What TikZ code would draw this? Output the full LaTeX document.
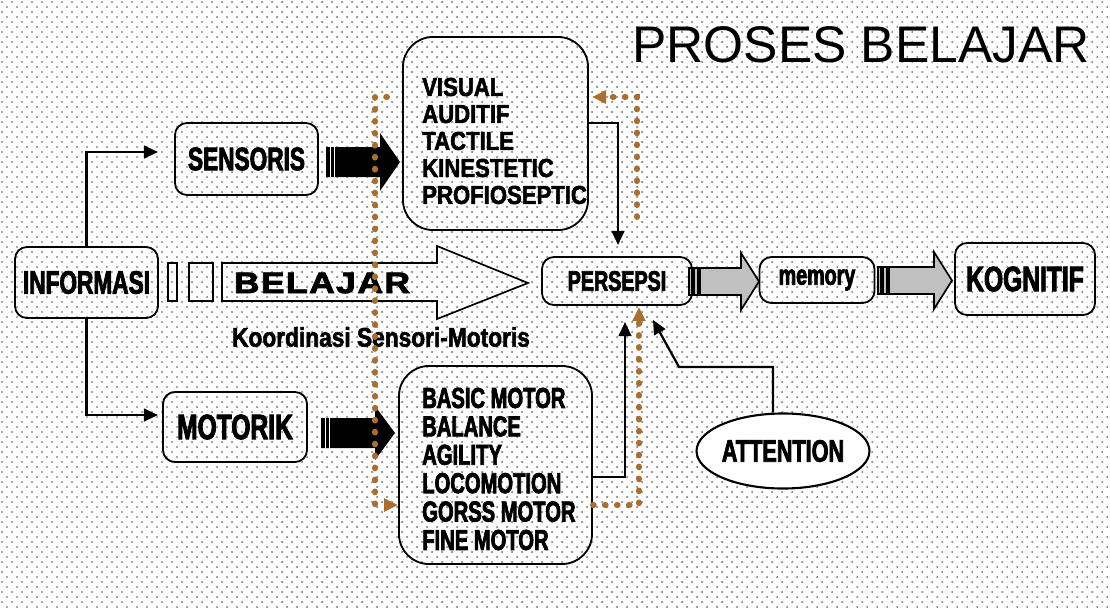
\documentclass[tikz,border=0pt]{standalone}
\usepackage{fontspec}
\setmainfont{Liberation Sans}
\newfontfamily\narrowfont[FakeStretch=0.7,BoldFeatures={FakeBold=2.5}]{Liberation Sans}
\newfontfamily\semifont[FakeStretch=0.85,BoldFeatures={FakeBold=2}]{Liberation Sans}
\newfontfamily\widefont[FakeStretch=1.2,LetterSpace=5,BoldFeatures={FakeBold=3}]{Liberation Sans}
\usetikzlibrary{positioning, shapes.geometric, arrows.meta, calc}
\definecolor{mybrown}{RGB}{168,110,50}
\definecolor{mygray}{RGB}{192,192,192}
\definecolor{dotgray}{RGB}{140,140,140}
\tikzset{
  box/.style={draw, line width=1.3pt, rounded corners=0.3cm, inner sep=0pt,
    font=\narrowfont\bfseries\fontsize{23}{26}\selectfont},
  bigbox/.style={draw, line width=1.3pt, rounded corners=0.75cm, inner sep=0pt},
  listtxt/.style={anchor=west, align=left, inner sep=0pt},
  conn/.style={->, line width=1.6pt},
  brownline/.style={->, draw=mybrown, line width=4.2pt, line cap=round,
    dash pattern=on 0.6pt off 7.9pt},
  dotrow/.style={dotgray, line width=1.7pt, line cap=round,
    dash pattern=on 0pt off 7.113pt},
  blockline/.style={line width=1.2pt}
}

\begin{document}
\begin{tikzpicture}[x=0.025cm, y=-0.025cm,
  >={Triangle[length=10pt,width=9pt]}]

% background
\useasboundingbox (0,0) rectangle (1110,607);
\fill[white] (0,0) rectangle (1110,607);
\foreach \r in {0,...,121} {
  \pgfmathsetmacro\off{mod(\r,2)*5+2}
  \draw[dotrow] (\off,\r*5+2) -- (1110,\r*5+2);
}

\node (title) at (861,45) {\fontsize{36.6}{40}\selectfont PROSES BELAJAR};

% boxes
\node [box, minimum width=3.575cm, minimum height=1.775cm] (inform) at (86.5,282.5) {INFORMASI};
\node [box, minimum width=3.575cm, minimum height=1.8cm] (sensoris) at (246.5,159) {SENSORIS};
\node [box, minimum width=3.6cm, minimum height=1.75cm,
  font=\narrowfont\bfseries\fontsize{25}{28}\selectfont] (motorik) at (235,427) {MOTORIK};
\node [bigbox, minimum width=4.625cm, minimum height=4.825cm] (sens) at (495.5,133.5) {};
\node [bigbox, minimum width=4.825cm, minimum height=4.95cm] (motor) at (495.5,465) {};
\node [box, minimum width=3.75cm, minimum height=1.2cm,
  font=\narrowfont\bfseries\fontsize{20}{22}\selectfont] (persepsi) at (617,281) {PERSEPSI};
\node [box, minimum width=2.875cm, minimum height=1.15cm,
  font=\narrowfont\bfseries\fontsize{20}{22}\selectfont] (memory) at (817,280) {memory};
\node [box, minimum width=3.5cm, minimum height=1.8cm,
  font=\narrowfont\bfseries\fontsize{25}{28}\selectfont] (kognitif) at (1025,279) {KOGNITIF};
\node [ellipse, draw, line width=1.5pt, fill=white, minimum width=3.675cm, minimum height=1.875cm,
  inner sep=0pt, font=\narrowfont\bfseries\fontsize{22}{24}\selectfont] (attn) at (783,451) {ATTENTION};

% lists
\node [listtxt, font=\semifont\bfseries\fontsize{18.5}{19.2}\selectfont] (senslist) at (422,141)
  {VISUAL\\AUDITIF\\TACTILE\\KINESTETIC\\PROFIOSEPTIC};
\node [listtxt, font=\narrowfont\bfseries\fontsize{20.5}{20.2}\selectfont] (motorlist) at (422,469)
  {BASIC MOTOR\\BALANCE\\AGILITY\\LOCOMOTION\\GORSS MOTOR\\FINE MOTOR};

% belajar arrow
\draw[blockline] (168,263) rectangle (177,301);
\draw[blockline] (189,263) rectangle (213,301);
\draw[blockline] (222,263) -- (437,263) -- (437,246) -- (528,283) -- (437,319) -- (437,301) -- (222,301) -- cycle;
\node (belajar) at (322,283) {\widefont\bfseries\fontsize{21}{22}\selectfont BELAJAR};
\node (koord) at (381,337) {\semifont\bfseries\fontsize{19}{22}\selectfont Koordinasi Sensori-Motoris};

% black block arrows
\fill (326,147) -- (380,147) -- (380,133) -- (400,162) -- (380,191) -- (380,177) -- (326,177) -- cycle;
\foreach \x in {330,334} \draw[white, line width=0.5pt] (\x,147) -- (\x,177);
\fill (321,418) -- (375,418) -- (375,406) -- (395,433) -- (375,460) -- (375,448) -- (321,448) -- cycle;
\foreach \x in {325,329} \draw[white, line width=0.5pt] (\x,418) -- (\x,448);

% gray block arrows
\filldraw[fill=mygray, blockline] (689,268) rectangle (692,295);
\filldraw[fill=mygray, blockline] (694,268) rectangle (698,295);
\filldraw[fill=mygray, blockline] (700,268) -- (741,268) -- (741,253) -- (759,281.5) -- (741,310) -- (741,295) -- (700,295) -- cycle;
\filldraw[fill=mygray, blockline] (878,267) rectangle (881,294);
\filldraw[fill=mygray, blockline] (883,267) rectangle (887,294);
\filldraw[fill=mygray, blockline] (889,267) -- (934,267) -- (934,252) -- (952,280.5) -- (934,309) -- (934,294) -- (889,294) -- cycle;

% connectors
\coordinate (s-in) at (158,152);
\coordinate (m-in) at (158,415);
\coordinate (p-top) at (618,245);
\coordinate (p-bot) at (625,322);
\coordinate (p-att) at (653,320);
\coordinate (p-brown) at (639,307);
\draw[conn] (inform.north) |- (s-in);
\draw[conn] (inform.south) |- (m-in);
\draw[conn] ($(sens.east)+(0,-10.5)$) -| (p-top);
\draw[conn] ($(motor.east)+(0,12)$) -| (p-bot);
\draw[conn] ($(attn.north)+(-10,0)$) |- (679,367) -- (p-att);

% dotted loop
\coordinate (b1) at (387,97);
\coordinate (b2) at (637,217);
\draw[brownline] (b1) -| ($(motor.west)+(-23,40)$) -- ($(motor.west)+(0,40)$);
\draw[brownline] ($(motor.east)+(0,40)$) -| (p-brown);
\draw[brownline] (b2) |- ($(sens.east)+(3,-36.5)$);

\end{tikzpicture}
\end{document}
